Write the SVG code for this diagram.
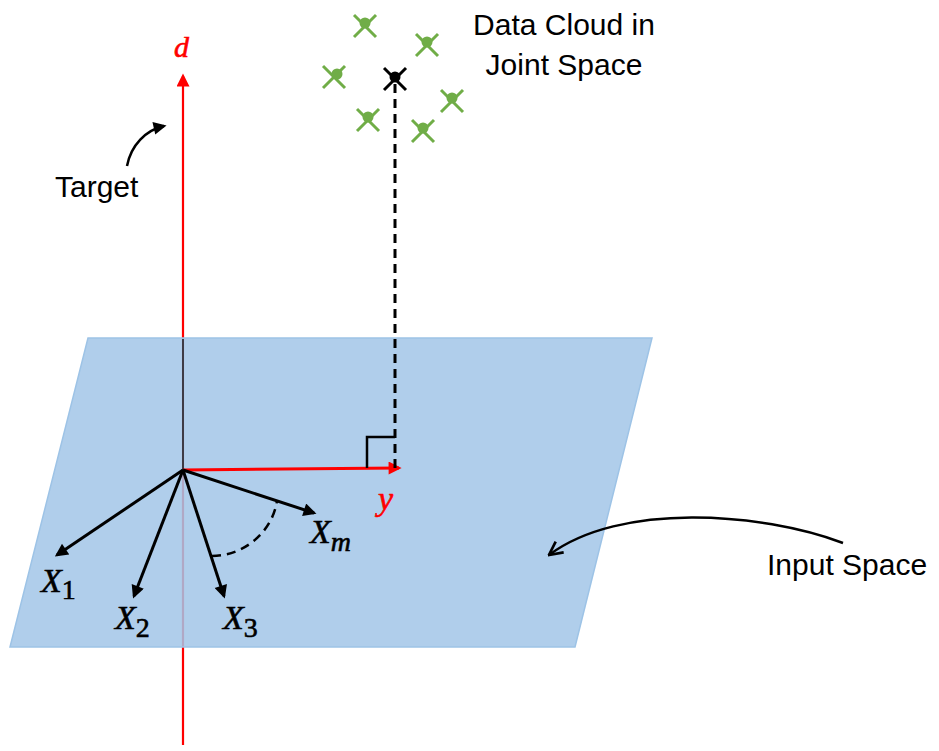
<svg xmlns="http://www.w3.org/2000/svg" width="939" height="751" viewBox="0 0 939 751">
  <style>
    .lbl { font-family: "Liberation Sans", Arial, sans-serif; font-size: 30px; fill: #000; }
    .math { font-family: "Liberation Serif", "DejaVu Serif", serif; font-style: italic; fill: #000; stroke: #000; stroke-width: 0.6; }
    .mred { fill: #ff0000; stroke: #ff0000; }
    .vec { stroke: #000; stroke-width: 3; fill: none; }
    .red { stroke: #ff0000; fill: none; }
    .gx line { stroke: #70ad47; stroke-width: 3; }
    .gx circle { fill: #70ad47; }
    .bx line { stroke: #000; stroke-width: 3; }
    .bx circle { fill: #000; }
  </style>
  <defs>
    <marker id="ahk" viewBox="0 0 10 10" refX="8" refY="5" markerWidth="15" markerHeight="13" markerUnits="userSpaceOnUse" orient="auto">
      <path d="M0,0 L10,5 L0,10 z" fill="#000"/>
    </marker>
    <marker id="ahr" viewBox="0 0 10 10" refX="8" refY="5" markerWidth="15" markerHeight="13" markerUnits="userSpaceOnUse" orient="auto">
      <path d="M0,0 L10,5 L0,10 z" fill="#ff0000"/>
    </marker>
    <marker id="ahopen" viewBox="0 0 12 12" refX="11" refY="6" markerWidth="16" markerHeight="16" markerUnits="userSpaceOnUse" orient="auto">
      <path d="M1,1 L11,6 L1,11" fill="none" stroke="#000" stroke-width="2"/>
    </marker>
  </defs>

  <!-- target axis d (behind plane) -->
  <g id="axis-d">
    <line class="red" x1="183" y1="745" x2="183" y2="76" stroke-width="2.2" marker-end="url(#ahr)"/>
  </g>

  <!-- input space plane -->
  <g id="plane">
    <polygon points="88,338 652,338 575,647 10,647" fill="#a2c6e7" fill-opacity="0.85" stroke="#9dc3e6" stroke-width="1.5"/>
  </g>

  <g id="axis-d-upper">
    <line x1="183" y1="339" x2="183" y2="470" stroke="#000" stroke-width="1.3"/>
  </g>

  <g id="connectors">
    <!-- y axis -->
    <line class="red" x1="183" y1="470" x2="399" y2="468" stroke-width="3" marker-end="url(#ahr)"/>
    <!-- projection dashed line -->
    <line x1="395" y1="84" x2="395" y2="468" stroke="#000" stroke-width="3" stroke-dasharray="9,6"/>
    <!-- right angle -->
    <polyline points="367,468 367,437 395,437" fill="none" stroke="#000" stroke-width="2.5"/>
    <!-- feature vectors -->
    <line class="vec" x1="183" y1="470" x2="57" y2="555" marker-end="url(#ahk)"/>
    <line class="vec" x1="183" y1="470" x2="134" y2="596" marker-end="url(#ahk)"/>
    <line class="vec" x1="183" y1="470" x2="224" y2="596" marker-end="url(#ahk)"/>
    <line class="vec" x1="183" y1="470" x2="314" y2="513" marker-end="url(#ahk)"/>
    <!-- angle arc -->
    <path d="M212,556 C243,556 272,533 277,501" fill="none" stroke="#000" stroke-width="2.5" stroke-dasharray="9,6"/>
    <!-- target pointer -->
    <path d="M127,166 C131,145 146,130 164,126" fill="none" stroke="#000" stroke-width="2.5" marker-end="url(#ahk)"/>
    <!-- input space pointer -->
    <path d="M843,543 C760,512 620,502 549,555" fill="none" stroke="#000" stroke-width="2.5" marker-end="url(#ahopen)"/>
  </g>

  <!-- data cloud points -->
  <g id="data-cloud">
    <g class="gx" transform="translate(365,26)"><line x1="-11" y1="-11" x2="11" y2="11"/><line x1="11" y1="-11" x2="-11" y2="11"/><circle cx="0" cy="-3" r="5.5"/></g>
    <g class="gx" transform="translate(427,45)"><line x1="-11" y1="-11" x2="11" y2="11"/><line x1="11" y1="-11" x2="-11" y2="11"/><circle cx="0" cy="-3" r="5.5"/></g>
    <g class="gx" transform="translate(334,77)"><line x1="-11" y1="-11" x2="11" y2="11"/><line x1="11" y1="-11" x2="-11" y2="11"/><circle cx="3" cy="-3" r="5.5"/></g>
    <g class="gx" transform="translate(452,101)"><line x1="-11" y1="-11" x2="11" y2="11"/><line x1="11" y1="-11" x2="-11" y2="11"/><circle cx="0" cy="-3" r="5.5"/></g>
    <g class="gx" transform="translate(368,120)"><line x1="-11" y1="-11" x2="11" y2="11"/><line x1="11" y1="-11" x2="-11" y2="11"/><circle cx="0" cy="-3" r="5.5"/></g>
    <g class="gx" transform="translate(423,131)"><line x1="-11" y1="-11" x2="11" y2="11"/><line x1="11" y1="-11" x2="-11" y2="11"/><circle cx="0" cy="-3" r="5.5"/></g>
    <g class="bx" transform="translate(395,79)"><line x1="-11" y1="-11" x2="11" y2="11"/><line x1="11" y1="-11" x2="-11" y2="11"/><circle cx="0" cy="-2" r="5.5"/></g>
  </g>

  <g id="label-cloud">
    <text class="lbl" x="564" y="35" text-anchor="middle">Data Cloud in</text>
    <text class="lbl" x="564" y="75" text-anchor="middle">Joint Space</text>
  </g>
  <g id="label-target">
    <text class="lbl" x="55" y="197" font-size="29">Target</text>
  </g>
  <g id="label-input">
    <text class="lbl" x="767" y="575">Input Space</text>
  </g>

  <g id="label-d"><text class="math mred" x="174" y="57" font-size="30">d</text></g>
  <g id="label-y"><text class="math mred" x="378" y="510" font-size="34">y</text></g>
  <g id="label-x1"><text class="math" x="41" y="592" font-size="34">X<tspan font-size="28" dy="7" font-style="normal">1</tspan></text></g>
  <g id="label-x2"><text class="math" x="115" y="629" font-size="34">X<tspan font-size="28" dy="8" font-style="normal">2</tspan></text></g>
  <g id="label-x3"><text class="math" x="223" y="629" font-size="34">X<tspan font-size="28" dy="8" font-style="normal">3</tspan></text></g>
  <g id="label-xm"><text class="math" x="310" y="543" font-size="34">X<tspan font-size="28" dy="8">m</tspan></text></g>
</svg>
